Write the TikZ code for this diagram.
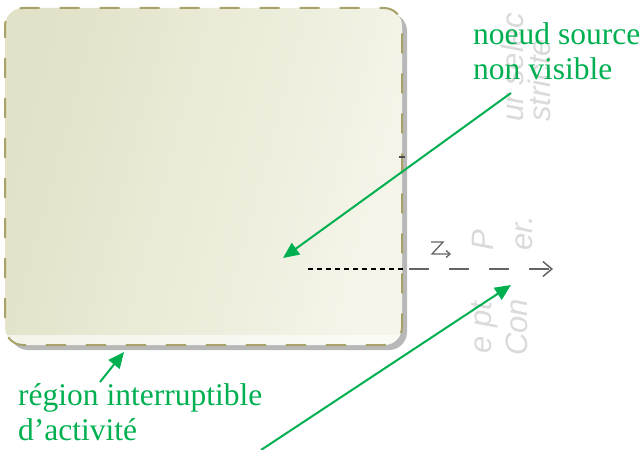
\documentclass[tikz,border=0pt]{standalone}
\usepackage{fontspec}
\setmainfont{Liberation Serif}
\newfontfamily\wmfont{Liberation Sans}
\usetikzlibrary{arrows.meta,shadings}
\definecolor{callout}{RGB}{0,176,80}
\definecolor{boxborder}{RGB}{168,162,106}
\definecolor{boxleft}{RGB}{226,226,200}
\definecolor{boxright}{RGB}{245,245,234}
\definecolor{edgegrey}{RGB}{100,100,100}
\definecolor{wmgrey}{RGB}{218,218,218}
\tikzset{
  lbl/.style={text=callout,font=\fontsize{31.5}{35}\selectfont,inner sep=0pt,anchor=base west},
  callarrow/.style={draw=callout,line width=2pt,-{Triangle[length=16pt,width=14pt]}},
  wm/.style={text=wmgrey,font=\wmfont\itshape\fontsize{31}{34}\selectfont,rotate=90,inner sep=0pt,anchor=base west},
}
\begin{document}
\begin{tikzpicture}[x=1pt,y=-1pt]
\useasboundingbox (0,0) rectangle (644,449);
% faint background fragments
\node[wm] (w1) at (523,122) {ur selec};
\node[wm] (w2) at (550,122) {stricte};
\node[wm] (w3) at (491,354) {e pt};
\node[wm] (w4) at (527,356) {Con};
\node[wm] (w5) at (493,251) {P};
\node[wm] (w6) at (532,251) {er.};
% region shadow
\fill[black!28,rounded corners=18pt] (10,13) rectangle (407,350);
% region
\shade[rounded corners=18pt,left color=boxleft,right color=boxright,shading angle=75] (5,8) rectangle (402,345);
\begin{scope}
\clip[rounded corners=18pt] (5,8) rectangle (402,345);
\fill[white,opacity=0.6] (5,335) rectangle (402,345);
\end{scope}
\draw[boxborder,line width=2pt,dash pattern=on 20pt off 20pt,dash phase=8pt,rounded corners=18pt] (5,8) rectangle (402,345);
\node[inner sep=0pt,minimum size=0pt] (region) at (203.5,176.5) {};
\draw[black!70,line width=1pt] (399,157) -- (405,157);
% edges
\coordinate (src) at (308,269);
\coordinate (bnd) at (403,269);
\coordinate (tgt) at (553,269);
\draw[black,line width=1.5pt,dash pattern=on 5pt off 4pt] (src) -- (bnd);
\draw[edgegrey,line width=1.5pt,dash pattern=on 20pt off 20pt,dash phase=-6pt,-{Straight Barb[length=9pt,width=15pt]}] (bnd) -- (tgt);
% interrupt symbol
\coordinate (z1) at (431,242);
\coordinate (z2) at (443,242);
\coordinate (z3) at (432,254);
\coordinate (z4) at (451,254);
\draw[edgegrey,line width=1.3pt,-{Straight Barb[length=4pt,width=7pt]}] (z1) -- (z2) -- (z3) -- (z4);
% labels
\node[lbl] (ns1) at (473,45) {noeud source};
\node[lbl] (ns2) at (473,80) {non visible};
\node[lbl] (ri1) at (18,405) {région interruptible};
\node[lbl] (ri2) at (18,440) {d’activité};
% callout arrows
\coordinate (a1s) at (511,93);
\coordinate (a1t) at (283,258);
\coordinate (a2s) at (261,450);
\coordinate (a2t) at (511,285);
\coordinate (a3s) at (100,382);
\coordinate (a3t) at (124,352);
\draw[callarrow] (a1s) -- (a1t);
\draw[callarrow] (a2s) -- (a2t);
\draw[callarrow] (a3s) -- (a3t);
\end{tikzpicture}
\end{document}
